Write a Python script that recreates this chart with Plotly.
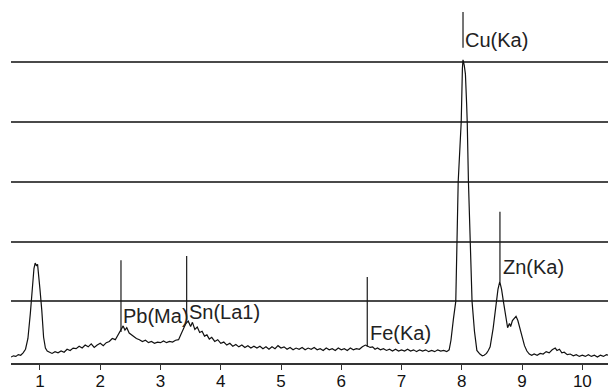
import plotly.graph_objects as go

# Spectrum: energy (keV) and intensity (in grid units)
energy = [0.52, 0.56, 0.60, 0.64, 0.68, 0.72, 0.76, 0.80, 0.84, 0.87, 0.90, 0.92, 0.94, 0.96, 0.98,
          1.00, 1.03, 1.06, 1.09, 1.12, 1.16, 1.20, 1.25, 1.30, 1.35, 1.40, 1.45, 1.50, 1.55, 1.60,
          1.65, 1.70, 1.75, 1.80, 1.85, 1.90, 1.95, 2.00, 2.05, 2.10, 2.15, 2.20, 2.25, 2.30, 2.35,
          2.38, 2.41, 2.44, 2.48, 2.52, 2.56, 2.60, 2.65, 2.70, 2.75, 2.80, 2.85, 2.90, 2.95, 3.00,
          3.05, 3.10, 3.15, 3.20, 3.25, 3.30, 3.34, 3.38, 3.42, 3.46, 3.50, 3.53, 3.57, 3.61, 3.65,
          3.69, 3.73, 3.77, 3.81, 3.85, 3.90, 3.95, 4.00, 4.05, 4.10, 4.15, 4.20, 4.25, 4.30, 4.35,
          4.40, 4.45, 4.50, 4.55, 4.60, 4.65, 4.70, 4.75, 4.80, 4.85, 4.90, 4.95, 5.00, 5.05, 5.10,
          5.15, 5.20, 5.25, 5.30, 5.35, 5.40, 5.45, 5.50, 5.55, 5.60, 5.65, 5.70, 5.75, 5.80, 5.85,
          5.90, 5.95, 6.00, 6.05, 6.10, 6.15, 6.20, 6.25, 6.30, 6.35, 6.40, 6.44, 6.48, 6.52, 6.56,
          6.60, 6.65, 6.70, 6.75, 6.80, 6.85, 6.90, 6.95, 7.00, 7.05, 7.10, 7.15, 7.20, 7.25, 7.30,
          7.35, 7.40, 7.45, 7.50, 7.55, 7.60, 7.65, 7.70, 7.75, 7.79, 7.82, 7.86, 7.90, 7.92, 7.94,
          7.97, 7.99, 8.01, 8.02, 8.04, 8.06, 8.08, 8.09, 8.11, 8.14, 8.17, 8.21, 8.25, 8.30, 8.34,
          8.37, 8.41, 8.44, 8.47, 8.52, 8.57, 8.60, 8.63, 8.66, 8.69, 8.72, 8.76, 8.79, 8.81, 8.84,
          8.87, 8.90, 8.93, 8.96, 9.00, 9.04, 9.08, 9.12, 9.16, 9.20, 9.25, 9.30, 9.35, 9.40, 9.45,
          9.50, 9.55, 9.58, 9.62, 9.66, 9.70, 9.75, 9.80, 9.85, 9.90, 9.95, 10.00, 10.05, 10.10, 10.15,
          10.20, 10.25, 10.30, 10.35, 10.40, 10.43]
counts = [0.07, 0.09, 0.08, 0.11, 0.10, 0.14, 0.20, 0.38, 0.80, 1.25, 1.55, 1.64, 1.60, 1.62, 1.45,
          1.20, 0.85, 0.40, 0.22, 0.17, 0.15, 0.13, 0.16, 0.14, 0.17, 0.15, 0.20, 0.18, 0.22, 0.21,
          0.25, 0.22, 0.27, 0.24, 0.29, 0.23, 0.27, 0.30, 0.26, 0.31, 0.33, 0.38, 0.36, 0.45, 0.55,
          0.59, 0.52, 0.56, 0.47, 0.44, 0.40, 0.38, 0.36, 0.33, 0.35, 0.31, 0.33, 0.30, 0.32, 0.31,
          0.34, 0.31, 0.33, 0.32, 0.35, 0.36, 0.45, 0.55, 0.63, 0.67, 0.58, 0.65, 0.53, 0.57, 0.48,
          0.50, 0.42, 0.44, 0.37, 0.40, 0.33, 0.36, 0.30, 0.32, 0.27, 0.30, 0.25, 0.28, 0.24, 0.27,
          0.23, 0.26, 0.22, 0.25, 0.22, 0.25, 0.21, 0.24, 0.20, 0.24, 0.21, 0.26, 0.22, 0.24, 0.20,
          0.23, 0.19, 0.22, 0.20, 0.23, 0.19, 0.22, 0.20, 0.23, 0.19, 0.21, 0.18, 0.22, 0.19, 0.21,
          0.18, 0.22, 0.19, 0.21, 0.18, 0.22, 0.19, 0.21, 0.20, 0.24, 0.27, 0.25, 0.23, 0.24, 0.20,
          0.22, 0.19, 0.21, 0.18, 0.20, 0.17, 0.20, 0.17, 0.19, 0.17, 0.20, 0.17, 0.19, 0.16, 0.19,
          0.17, 0.19, 0.16, 0.18, 0.16, 0.19, 0.17, 0.18, 0.16, 0.19, 0.35, 0.70, 1.00, 2.00, 3.00,
          3.60, 4.00, 4.90, 5.04, 4.95, 4.80, 4.30, 4.00, 3.00, 2.00, 1.00, 0.50, 0.18, 0.12, 0.09,
          0.10, 0.13, 0.18, 0.24, 0.55, 1.00, 1.20, 1.33, 1.20, 1.00, 0.80, 0.56, 0.63, 0.58, 0.68,
          0.72, 0.75, 0.68, 0.56, 0.40, 0.26, 0.17, 0.12, 0.10, 0.12, 0.10, 0.13, 0.12, 0.16, 0.14,
          0.19, 0.22, 0.18, 0.20, 0.14, 0.15, 0.11, 0.12, 0.09, 0.11, 0.08, 0.10, 0.08, 0.11, 0.08,
          0.10, 0.07, 0.10, 0.08, 0.11, 0.10]

# Element marker lines
marker_labels = ["Pb(Ma)", "Sn(La1)", "Fe(Ka)", "Cu(Ka)", "Zn(Ka)"]
marker_energy = [2.344, 3.434, 6.431, 8.02, 8.633]
marker_top = [1.69, 1.76, 1.41, 5.84, 2.50]
marker_bottom = [0.49, 0.69, 0.24, 5.24, 1.33]
label_x = [2.38, 3.47, 6.476, 8.06, 8.68]
label_y = [0.76, 0.82, 0.47, 5.37, 1.57]

tick_vals = [1, 2, 3, 4, 5, 6, 7, 8, 9, 10]
grid_vals = [1, 2, 3, 4, 5]

fig = go.Figure()
fig.add_trace(go.Scatter(x=energy, y=counts, mode="lines",
                         line=dict(color="#111111", width=1.2), showlegend=False, hoverinfo="skip"))

mx, my = [], []
for e, t, b in zip(marker_energy, marker_top, marker_bottom):
    mx += [e, e, None]
    my += [b, t, None]
fig.add_trace(go.Scatter(x=mx, y=my, mode="lines",
                         line=dict(color="#1a1a1a", width=1.2), showlegend=False, hoverinfo="skip"))

for lab, lx, ly in zip(marker_labels, label_x, label_y):
    fig.add_annotation(x=lx, y=ly, text=lab, showarrow=False, xanchor="left", yanchor="middle",
                       xshift=-2, font=dict(family="Liberation Sans", size=20, color="#222222"))

fig.update_layout(
    width=608, height=392,
    margin=dict(l=11, r=0, t=0, b=29, autoexpand=False),
    paper_bgcolor="white", plot_bgcolor="white",
    font=dict(family="Liberation Sans", size=17, color="#111111"),
    xaxis=dict(range=[0.519, 10.426], tickvals=tick_vals, ticktext=[str(v) for v in tick_vals],
               showgrid=False, zeroline=False, showline=True, linecolor="#333333", linewidth=1.5,
               ticks="outside", ticklen=5, tickwidth=1.3, tickcolor="#333333",
               ticklabelstandoff=-3,
               tickfont=dict(family="Liberation Sans", size=17, color="#111111")),
    yaxis=dict(range=[-0.03, 6.04], tickvals=grid_vals, showticklabels=False, showgrid=True,
               gridcolor="#4a4a4a", gridwidth=2, zeroline=False, showline=False, ticks=""),
)

fig.write_html("out.html", config={"displayModeBar": False},
               post_script="document.body.style.margin='0';document.body.style.padding='0';"
                           "document.body.style.overflow='hidden';")
